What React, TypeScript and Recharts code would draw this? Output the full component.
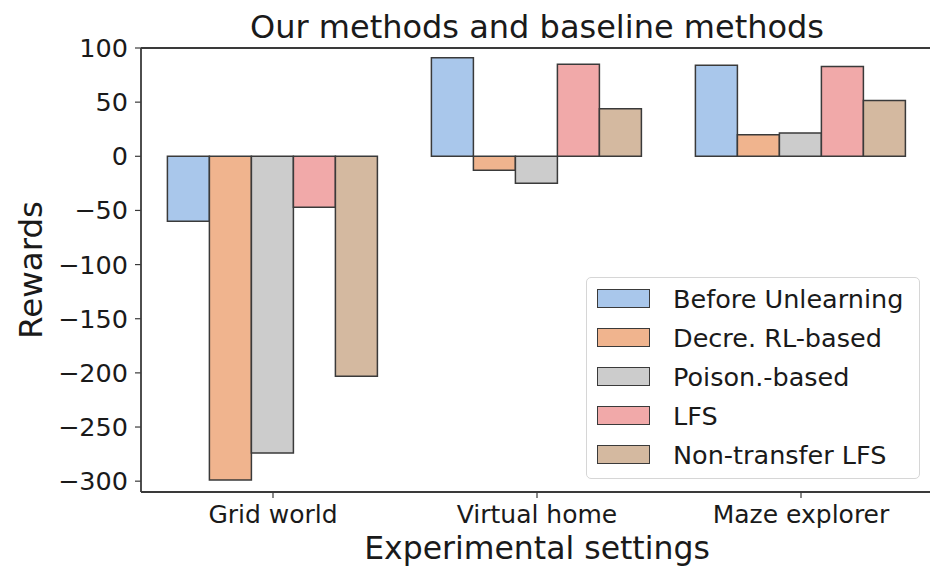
import { BarChart, Bar, XAxis, YAxis, ReferenceLine, Legend } from "recharts";

const categories = ["Grid world", "Virtual home", "Maze explorer"];
const beforeUnlearning = [-60, 91, 84];
const decreRL = [-299, -13, 20];
const poisonBased = [-274, -25, 21.5];
const lfs = [-47, 85, 83];
const nonTransferLfs = [-203, 44, 51.5];
const yTicks = [-300, -250, -200, -150, -100, -50, 0, 50, 100];

const series = [
  { key: "before", name: "Before Unlearning", color: "#a9c7eb", values: beforeUnlearning },
  { key: "decre", name: "Decre. RL-based", color: "#f0b48e", values: decreRL },
  { key: "poison", name: "Poison.-based", color: "#cccccc", values: poisonBased },
  { key: "lfs", name: "LFS", color: "#f1a9a9", values: lfs },
  { key: "nonTransfer", name: "Non-transfer LFS", color: "#d4b9a0", values: nonTransferLfs },
];

const data = categories.map((name, i) => {
  const row: Record<string, string | number> = { name };
  series.forEach((s) => (row[s.key] = s.values[i]));
  return row;
});

const FONT = "'DejaVu Sans', sans-serif";
const TEXT = "#1a1a1a";
const SPINE = "#3a3a3a";

const minus = (v: number) => String(v).replace("-", "\u2212");

const LegendBox = () => (
  <div
    style={{
      width: 334,
      height: 202,
      boxSizing: "border-box",
      border: "1px solid #d6d6d6",
      borderRadius: 5,
      background: "rgba(255,255,255,0.85)",
      paddingTop: 1,
      fontFamily: FONT,
    }}
  >
    {series.map((s) => (
      <div key={s.key} style={{ display: "flex", alignItems: "center", height: 39 }}>
        <div
          style={{
            marginLeft: 10,
            width: 53,
            height: 19,
            boxSizing: "border-box",
            background: s.color,
            border: `1.5px solid ${SPINE}`,
          }}
        />
        <span style={{ marginLeft: 23, fontSize: 25.5, color: TEXT, whiteSpace: "nowrap" }}>{s.name}</span>
      </div>
    ))}
  </div>
);

export default function App() {
  return (
    <div
      style={{
        position: "absolute",
        left: 0,
        top: 0,
        width: 930,
        height: 566,
        overflow: "hidden",
        background: "#fff",
        fontFamily: FONT,
      }}
    >
      <BarChart
        width={940}
        height={566}
        data={data}
        margin={{ top: 48, right: 7, bottom: 0, left: 16 }}
        barCategoryGap="10%"
        barGap={0}
      >
        <XAxis
          dataKey="name"
          height={74}
          interval={0}
          tickSize={6}
          tickMargin={7}
          axisLine={{ stroke: SPINE, strokeWidth: 1.8 }}
          tickLine={{ stroke: SPINE, strokeWidth: 1.2 }}
          tick={{ fontSize: 25, fill: TEXT, fontFamily: FONT }}
          label={{
            value: "Experimental settings",
            position: "insideBottom",
            offset: 7.5,
            fontSize: 31.5,
            fill: TEXT,
            fontFamily: FONT,
          }}
        />
        <YAxis
          width={125}
          domain={[-310, 100]}
          ticks={yTicks}
          allowDataOverflow
          tickSize={6}
          tickMargin={7}
          tickFormatter={minus}
          axisLine={{ stroke: SPINE, strokeWidth: 1.8 }}
          tickLine={{ stroke: SPINE, strokeWidth: 1.2 }}
          tick={{ fontSize: 25.5, fill: TEXT, fontFamily: FONT }}
          label={{
            value: "Rewards",
            angle: -90,
            position: "insideLeft",
            offset: 14,
            fontSize: 32.5,
            fill: TEXT,
            fontFamily: FONT,
            style: { textAnchor: "middle" },
          }}
        />
        <ReferenceLine
          y={100}
          stroke={SPINE}
          strokeWidth={1.8}
          label={{
            value: "Our methods and baseline methods",
            position: "top",
            offset: 10,
            fontSize: 32,
            fill: TEXT,
            fontFamily: FONT,
          }}
        />
        {series.map((s) => (
          <Bar
            key={s.key}
            dataKey={s.key}
            name={s.name}
            fill={s.color}
            stroke={SPINE}
            strokeWidth={1.5}
            isAnimationActive={false}
          />
        ))}
        <Legend
          layout="horizontal"
          align="center"
          verticalAlign="middle"
          content={() => <LegendBox />}
          wrapperStyle={{ position: "absolute", left: 586, top: 277, width: 334, height: 202 }}
        />
      </BarChart>
    </div>
  );
}
